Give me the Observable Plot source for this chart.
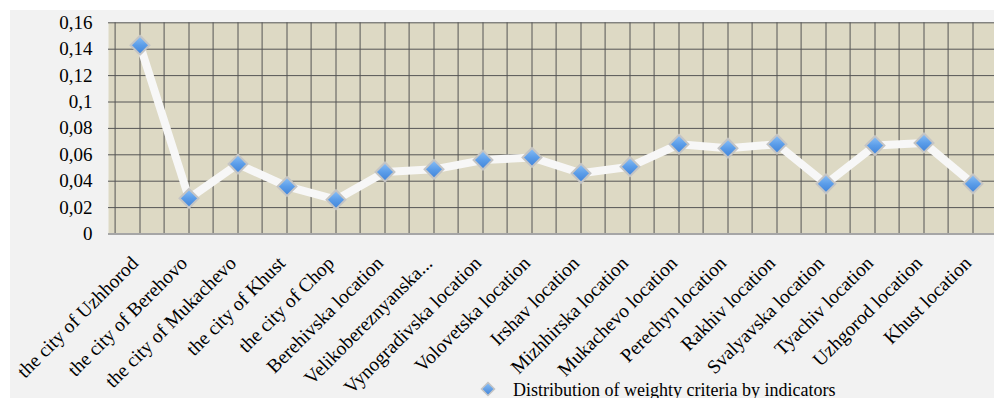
<!DOCTYPE html>
<html><head><meta charset="utf-8">
<script src="https://cdn.jsdelivr.net/npm/d3@7"></script>
<script src="https://cdn.jsdelivr.net/npm/@observablehq/plot@0.6"></script>
<style>
html,body{margin:0;padding:0;background:#fff;overflow:hidden;width:994px;height:398px;}
#wrap{position:absolute;left:10px;top:10px;width:984px;height:388px;background:#f2f2f2;overflow:hidden;}
#legmark{position:absolute;left:479px;top:380px;}
#legtext{position:absolute;left:513px;top:381px;line-height:18px;white-space:nowrap;font-family:"Liberation Serif","Times New Roman",serif;font-size:18px;color:#000;}
</style></head><body>
<div id="wrap"></div>
<div id="legmark"></div>
<div id="legtext"></div>
<script>
const categories = [
  "the city of Uzhhorod","the city of Berehovo","the city of Mukachevo","the city of Khust","the city of Chop",
  "Berehivska location","Velikobereznyanska...","Vynogradivska location","Volovetska location","Irshav location",
  "Mizhhirska location","Mukachevo location","Perechyn location","Rakhiv location","Svalyavska location",
  "Tyachiv location","Uzhgorod location","Khust location"
];
const values = [0.143,0.027,0.053,0.036,0.026,0.047,0.049,0.056,0.058,0.046,0.051,0.068,0.065,0.068,0.038,0.067,0.069,0.038];
const yTickValues = [0,0.02,0.04,0.06,0.08,0.1,0.12,0.14,0.16];
const yTickLabels = ["0","0,02","0,04","0,06","0,08","0,1","0,12","0,14","0,16"];
const seriesName = "Distribution of weighty criteria by indicators";

const data = categories.map((c,i)=>({cat:c, value:values[i]}));
const W=984, H=388, mLeft=98, mTop=12.3, yBottom=223.5, bw=49.8;
const font = '"Liberation Serif","Times New Roman",serif';

const chart = Plot.plot({
  width: W, height: H,
  marginLeft: mLeft, marginTop: mTop, marginBottom: H-yBottom, marginRight: 0,
  style: {background:"transparent", fontFamily: font, fontSize:"19px", color:"#000", overflow:"hidden"},
  x: {type:"band", domain: categories, range:[mLeft, mLeft+bw*categories.length], padding:0, label:null},
  y: {domain:[0,0.16], label:null},
  marks: [
    Plot.frame({fill:"#ddd9c4", stroke:null}),
    Plot.gridY(yTickValues, {stroke:"#555", strokeOpacity:1}),
    Plot.ruleX(categories, {stroke:"#555", dx:-bw/2}),
    Plot.ruleX(categories, {stroke:"#555"}),
    Plot.ruleY([0], {stroke:"#a6a6a6", strokeWidth:2}),
    Plot.axisY({ticks: yTickValues, tickFormat: d => yTickLabels[yTickValues.indexOf(d)], tickSize:0, tickPadding:16, fontSize:19, fontFamily: font, label:null}),
    Plot.axisX({tickRotate:-45, tickSize:0, tickPadding:26, dx:-5, fontSize:19.5, fontFamily: font, label:null}),
    Plot.line(data, {x:"cat", y:"value", stroke:"#f7f7f7", strokeWidth:8}),
    Plot.dot(data, {x:"cat", y:"value", symbol:"diamond2", r:8.5, fill:"url(#dgrad)", stroke:"#c4c4c4", strokeWidth:2})
  ]
});
const svg = d3.select(chart);
const g = svg.insert("defs", ":first-child").append("linearGradient").attr("id","dgrad").attr("x1",0).attr("y1",0).attr("x2",0).attr("y2",1);
g.append("stop").attr("offset","0%").attr("stop-color","#8dc1f6");
g.append("stop").attr("offset","50%").attr("stop-color","#5b9de9");
g.append("stop").attr("offset","100%").attr("stop-color","#3f82d8");
document.getElementById("wrap").appendChild(chart);

document.getElementById("legmark").innerHTML = '<svg width="18" height="18" viewBox="-9 -9 18 18"><defs><linearGradient id="lg" x1="0" y1="0" x2="0" y2="1"><stop offset="0%" stop-color="#8dc1f6"/><stop offset="100%" stop-color="#3f82d8"/></linearGradient></defs><path d="M0,-6.5L6.5,0L0,6.5L-6.5,0Z" fill="url(#lg)" stroke="#c4c4c4" stroke-width="1.5"/></svg>';
document.getElementById("legtext").textContent = seriesName;
</script>
</body></html>
